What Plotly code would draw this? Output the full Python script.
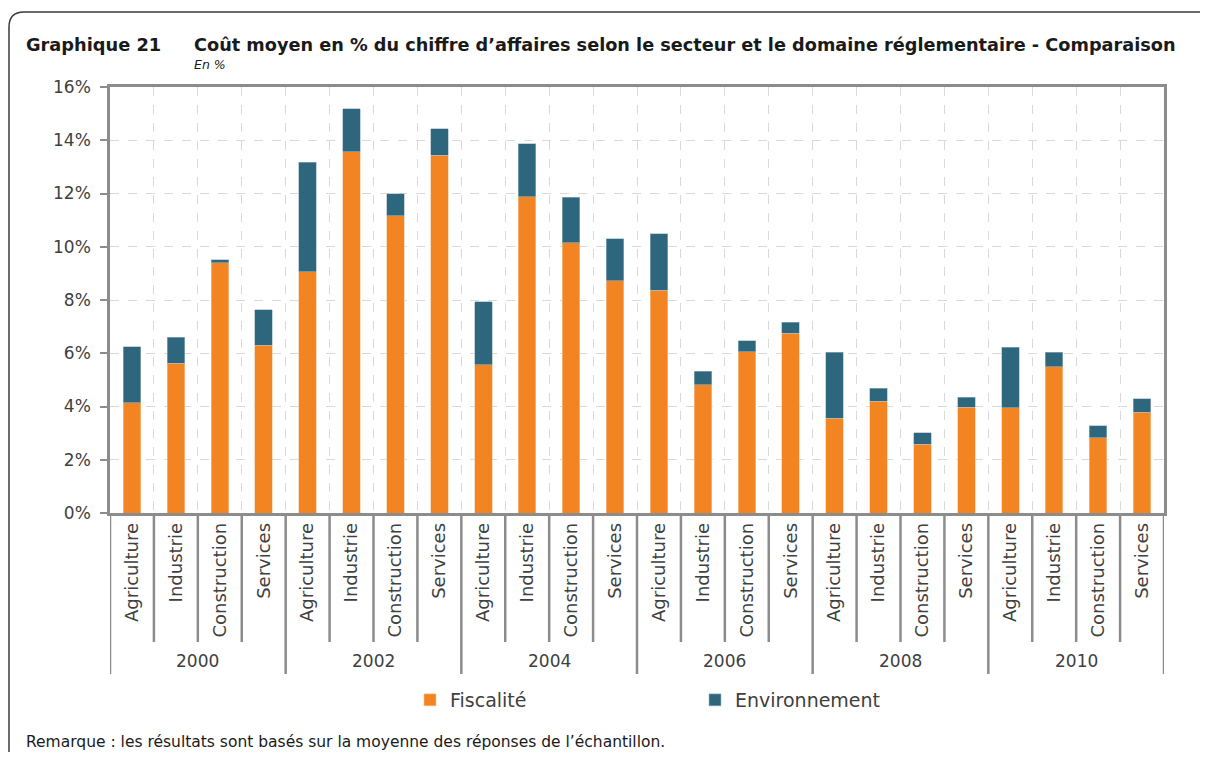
import plotly.graph_objects as go

years = ["2000", "2002", "2004", "2006", "2008", "2010"]
sectors = ["Agriculture", "Industrie", "Construction", "Services"]

fiscalite = [4.15, 5.63, 9.39, 6.30,
             9.07, 13.57, 11.17, 13.43,
             5.56, 11.88, 10.15, 8.73,
             8.37, 4.82, 6.06, 6.76,
             3.56, 4.20, 2.59, 3.98,
             3.96, 5.49, 2.82, 3.79]
total = [6.25, 6.60, 9.51, 7.63,
         13.18, 15.19, 11.99, 14.44,
         7.94, 13.86, 11.85, 10.30,
         10.48, 5.33, 6.47, 7.17,
         6.04, 4.69, 3.02, 4.35,
         6.23, 6.03, 3.28, 4.30]
environnement = [round(t - f, 2) for t, f in zip(total, fiscalite)]

y_ticks = [0, 2, 4, 6, 8, 10, 12, 14, 16]
y_ticktext = [f"{v}%" for v in y_ticks]

title_main = "Coût moyen en % du chiffre d’affaires selon le secteur et le domaine réglementaire - Comparaison"
remark = "Remarque : les résultats sont basés sur la moyenne des réponses de l’échantillon."

ORANGE = "#F28522"
TEAL = "#2E667D"
AXIS = "#8C8C8C"
TXT = "#404040"
FONT = "DejaVu Sans"

# page has an 8px body margin: work in page pixels, convert to figure pixels
OFF = 8
W, H = 1208 - 2 * OFF, 760 - 2 * OFF
L, R, T, B = 110 - OFF, 1164 - OFF, 87 - OFF, 513 - OFF

n = len(years) * len(sectors)
xs = list(range(n))
labels = [s for _ in years for s in sectors]


def px_x(p):
    return (p - OFF - L) / (R - L)


def px_y(p):
    return (B - (p - OFF)) / (B - T)


fig = go.Figure()
fig.add_bar(x=xs, y=fiscalite, name="Fiscalité",
            marker=dict(color=ORANGE, line=dict(color="#F6C79E", width=0.6)), width=0.4)
fig.add_bar(x=xs, y=environnement, name="Environnement",
            marker=dict(color=TEAL, line=dict(color="#9DB8C4", width=0.6)), width=0.4)

shapes = []
for i in range(n + 1):
    xb = i - 0.5
    long = (i % len(sectors) == 0)
    shapes.append(dict(type="line", xref="x", yref="paper", x0=xb, x1=xb,
                       y0=0, y1=px_y(674 if long else 642),
                       line=dict(color=AXIS, width=2.5)))
# outer frame (rounded top-left corner, runs off right and bottom)
fx0, fy0 = 9, 12
rad = 15
path = (f"M {px_x(1240)},{px_y(fy0)} L {px_x(fx0 + rad)},{px_y(fy0)} "
        f"Q {px_x(fx0)},{px_y(fy0)} {px_x(fx0)},{px_y(fy0 + rad)} "
        f"L {px_x(fx0)},{px_y(800)}")
shapes.append(dict(type="path", xref="paper", yref="paper", path=path,
                   line=dict(color="#3A3A3A", width=1.5)))

annotations = []
for gi, yr in enumerate(years):
    annotations.append(dict(x=gi * len(sectors) + (len(sectors) - 1) / 2, xref="x",
                            y=px_y(661), yref="paper", text=yr, showarrow=False,
                            font=dict(family=FONT, size=17, color=TXT),
                            xanchor="center", yanchor="middle"))
annotations.append(dict(x=px_x(24), y=px_y(45), xref="paper", yref="paper",
                        text="<b>Graphique 21</b>", showarrow=False,
                        font=dict(family=FONT, size=17.8, color="#1A1A1A"),
                        xanchor="left", yanchor="middle"))
annotations.append(dict(x=px_x(192), y=px_y(45), xref="paper", yref="paper",
                        text="<b>" + title_main + "</b>", showarrow=False,
                        font=dict(family=FONT, size=17.7, color="#1A1A1A"),
                        xanchor="left", yanchor="middle"))
annotations.append(dict(x=px_x(192), y=px_y(64), xref="paper", yref="paper",
                        text="<i>En %</i>", showarrow=False,
                        font=dict(family=FONT, size=12.5, color="#1A1A1A"),
                        xanchor="left", yanchor="middle"))
annotations.append(dict(x=px_x(24), y=px_y(742), xref="paper", yref="paper",
                        text=remark, showarrow=False,
                        font=dict(family=FONT, size=15.5, color="#1A1A1A"),
                        xanchor="left", yanchor="middle"))

fig.update_layout(
    width=W, height=H,
    margin=dict(l=L, r=W - R, t=T, b=H - B, pad=0),
    barmode="stack",
    plot_bgcolor="white", paper_bgcolor="white",
    font=dict(family=FONT, color=TXT),
    shapes=shapes,
    annotations=annotations,
    legend=dict(orientation="h", x=px_x(410), y=px_y(700), xanchor="left", yanchor="middle",
                font=dict(family=FONT, size=19, color=TXT), entrywidth=240,
                itemwidth=30, traceorder="normal", bgcolor="rgba(0,0,0,0)"),
    xaxis=dict(range=[-0.5, n - 0.5], tickmode="array", tickvals=xs, ticktext=labels,
               tickangle=-90, ticks="", showgrid=False, zeroline=False,
               showline=True, linecolor=AXIS, linewidth=2.5, mirror=True,
               tickfont=dict(family=FONT, size=18, color=TXT), ticklabelstandoff=0,
               minor=dict(tick0=0.5, dtick=1, showgrid=True, gridcolor="#D9D9D9",
                          griddash="dash", gridwidth=1, ticks="")),
    yaxis=dict(range=[0, 16], tickmode="array", tickvals=y_ticks, ticktext=y_ticktext,
               showgrid=True, gridcolor="#D9D9D9", griddash="dash", gridwidth=1,
               zeroline=False, showline=True, linecolor=AXIS, linewidth=2.5, mirror=True,
               ticks="outside", ticklen=7, tickcolor=AXIS, tickwidth=2,
               ticklabelstandoff=6,
               tickfont=dict(family=FONT, size=17, color=TXT)),
)

fig.write_html("out.html")
